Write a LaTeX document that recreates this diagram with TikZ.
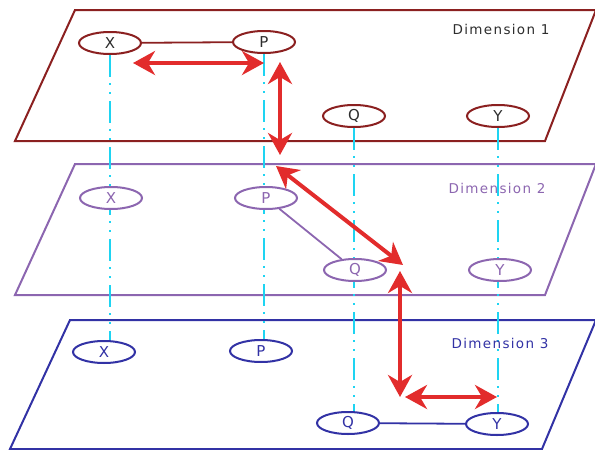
\documentclass[tikz,border=0pt]{standalone}
\usepackage{fontspec}
\setsansfont{DejaVu Sans}
\usepackage{tikz}
\usetikzlibrary{arrows.meta,backgrounds,shapes.geometric}
\definecolor{dimred}{RGB}{139,32,32}
\definecolor{dimpurple}{RGB}{140,102,176}
\definecolor{dimblue}{RGB}{50,50,165}
\definecolor{linkcyan}{RGB}{30,212,242}
\definecolor{moved}{RGB}{226,44,44}
\definecolor{textgray}{RGB}{45,45,45}

\begin{document}
\begin{tikzpicture}[x=1pt,y=-1pt,
plane/.style={line width=2pt},
point/.style={ellipse,draw,fill=white,line width=2pt,minimum width=62pt,minimum height=22pt,inner sep=0pt,font=\sffamily\fontsize{15}{15}\selectfont},
dimlabel/.style={font=\sffamily\fontsize{13.5}{14}\selectfont\addfontfeatures{LetterSpace=10}},
link/.style={linkcyan,line width=2.2pt,dash pattern=on 22pt off 6pt on 2pt off 7pt on 2pt off 7pt},
move/.style={moved,line width=4pt,{Stealth[length=22pt,width=24pt,inset=7pt]}-{Stealth[length=22pt,width=24pt,inset=7pt]}}]
\useasboundingbox (0,0) rectangle (595,450);

% dimension 1
\node[point,draw=dimred,text=textgray] (X1) at (110,43) {X};
\node[point,draw=dimred,text=textgray] (P1) at (264,42) {P};
\node[point,draw=dimred,text=textgray] (Q1) at (354,116) {Q};
\node[point,draw=dimred,text=textgray] (Y1) at (498,116) {Y};
\node[dimlabel,text=textgray] (lab1) at (501,29) {Dimension 1};
\draw[dimred,line width=1.8pt] (X1) -- (P1);

% dimension 2
\node[point,draw=dimpurple,text=dimpurple] (X2) at (111,198) {X};
\node[point,draw=dimpurple,text=dimpurple] (P2) at (266,198) {P};
\node[point,draw=dimpurple,text=dimpurple] (Q2) at (355,270) {Q};
\node[point,draw=dimpurple,text=dimpurple] (Y2) at (500,270) {Y};
\node[dimlabel,text=dimpurple] (lab2) at (497,188) {Dimension 2};
\draw[dimpurple,line width=1.8pt] (P2) -- (Q2);

% dimension 3
\node[point,draw=dimblue,text=dimblue] (X3) at (104,352) {X};
\node[point,draw=dimblue,text=dimblue] (P3) at (261,351) {P};
\node[point,draw=dimblue,text=dimblue] (Q3) at (348,423) {Q};
\node[point,draw=dimblue,text=dimblue] (Y3) at (497,424) {Y};
\node[dimlabel,text=dimblue] (lab3) at (500,343) {Dimension 3};
\draw[dimblue,line width=1.8pt] (Q3) -- (Y3);

\begin{scope}[on background layer]
% the three planes
\draw[plane,dimred] (75,10) -- (596,10) -- (545,141) -- (15,141) -- cycle;
\draw[plane,dimpurple] (75,164) -- (596,164) -- (545,295) -- (15,295) -- cycle;
\draw[plane,dimblue] (70,320) -- (596,320) -- (542,449) -- (10,449) -- cycle;
% same point through the dimensions
\draw[link] (X1) -- (X1 |- X3);
\draw[link] (P1) -- (P1 |- P3);
\draw[link] (Q1) -- (Q1 |- Q3);
\draw[link] (Y1) -- (Y1 |- Y3);
\end{scope}

% moves between points
\coordinate (m1) at (133,63);
\coordinate (m2) at (264,63);
\coordinate (m3) at (280,62);
\coordinate (m4) at (280,155);
\coordinate (m5) at (276,166);
\coordinate (m6) at (403,265);
\coordinate (m7) at (400,271);
\coordinate (m8) at (400,397);
\coordinate (m9) at (405,397);
\coordinate (m10) at (497,397);
\draw[move] (m1) -- (m2);
\draw[move] (m3) -- (m4);
\draw[move] (m5) -- (m6);
\draw[move] (m7) -- (m8);
\draw[move] (m9) -- (m10);
\end{tikzpicture}
\end{document}
